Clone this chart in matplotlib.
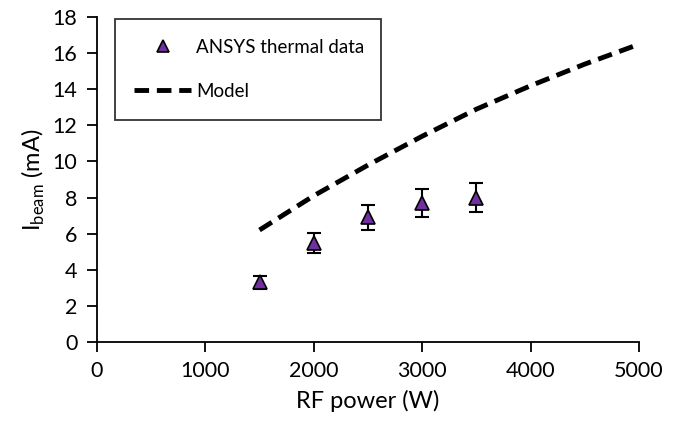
import matplotlib.pyplot as plt

plt.rcParams['font.family'] = ['Lato', 'DejaVu Sans']

# ANSYS thermal data (points with error bars)
power_pts = [1500, 2000, 2500, 3000, 3500]
ibeam_pts = [3.3, 5.5, 6.9, 7.7, 8.0]
ibeam_err = [0.35, 0.55, 0.7, 0.78, 0.78]

# Model curve
power_model = [1500, 2000, 2500, 3000, 3500, 4000, 4500, 5000]
ibeam_model = [6.2, 8.1, 9.8, 11.4, 12.9, 14.2, 15.4, 16.5]

fig = plt.figure(figsize=(6.82, 4.30), dpi=100)
ax = fig.add_axes([0.142, 0.205, 0.795, 0.755])

# error bars first, markers on top (markers alone go in the legend)
ax.errorbar(power_pts, ibeam_pts, yerr=ibeam_err, fmt='none',
            ecolor='black', elinewidth=1.5, capsize=5, capthick=1.5, zorder=3)
ax.plot(power_pts, ibeam_pts, '^', color='#7030A0', markeredgecolor='black',
        markeredgewidth=1.2, markersize=10, linestyle='none',
        label='ANSYS thermal data', zorder=4)
ax.plot(power_model, ibeam_model, color='black', linestyle=(0, (3, 1.6)),
        linewidth=3.5, label='Model', zorder=2)

ax.set_xlim(0, 5000)
ax.set_ylim(0, 18)
ax.set_xticks(range(0, 5001, 1000))
ax.set_yticks(range(0, 19, 2))

for s in ['top', 'right']:
    ax.spines[s].set_visible(False)
for s in ['left', 'bottom']:
    ax.spines[s].set_linewidth(1.3)
ax.tick_params(direction='out', length=7, width=1.3, labelsize=15.5, pad=7)

ax.set_xlabel('RF power (W)', fontsize=17, labelpad=6)
ax.set_ylabel(r'I$_{\mathregular{beam}}$ (mA)', fontsize=17, labelpad=4)

leg = ax.legend(loc='upper left', bbox_to_anchor=(0.033, 0.994, 0.491, 0.0),
                mode='expand', fontsize=13.5, frameon=True, fancybox=False,
                edgecolor='black', handlelength=3.0, handletextpad=0.3,
                labelspacing=1.45, borderpad=1.05, borderaxespad=0,
                markerscale=0.8)
leg.get_frame().set_linewidth(1.3)

fig.savefig('out.png', dpi=100)
